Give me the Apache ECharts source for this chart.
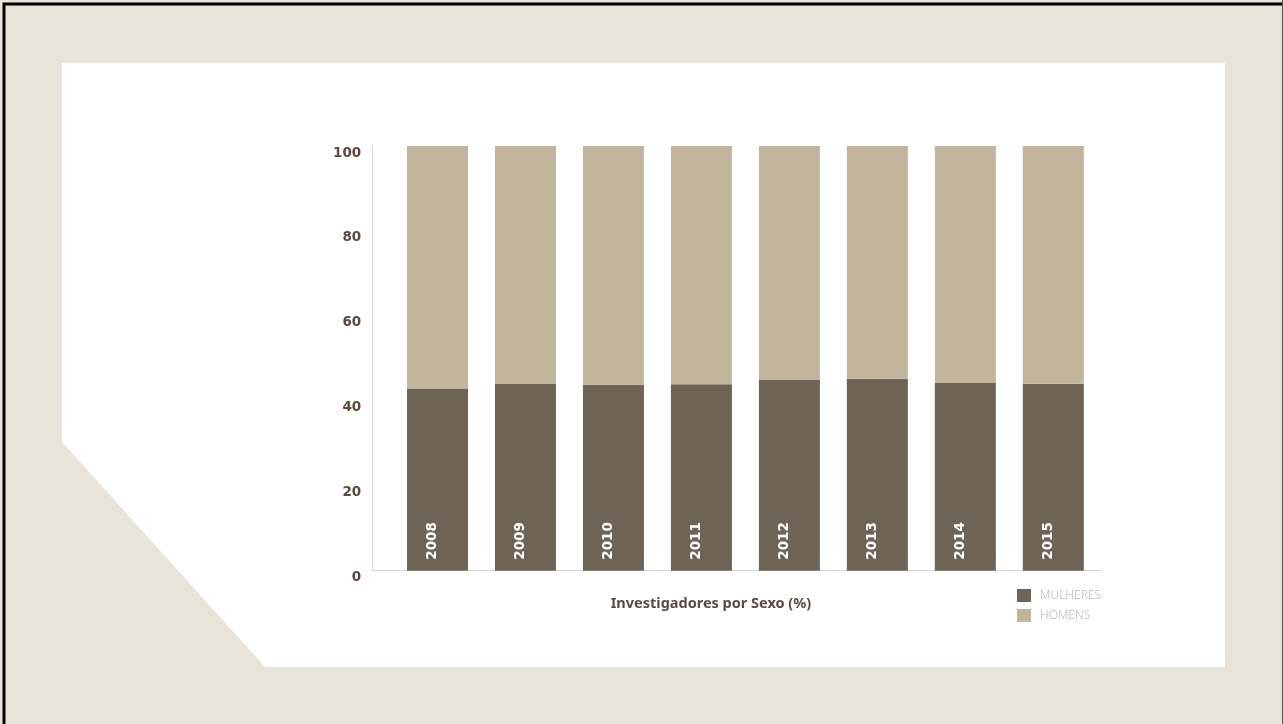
<!DOCTYPE html>
<html>
<head>
<meta charset="utf-8">
<script src="https://cdn.jsdelivr.net/npm/echarts@6/dist/echarts.min.js"></script>
<style>
  html, body { margin: 0; padding: 0; background: #e8e4da; }
  #chart { width: 1283px; height: 724px; }
</style>
</head>
<body>
<div id="chart"></div>
<script>
const years = ['2008', '2009', '2010', '2011', '2012', '2013', '2014', '2015'];
const mulheres = [42.9, 44.1, 43.8, 43.9, 44.9, 45.2, 44.2, 44.0];
const homens = [57.1, 55.9, 56.2, 56.1, 55.1, 54.8, 55.8, 56.0];
const yTicks = [0, 20, 40, 60, 80, 100];
const chartTitle = 'Investigadores por Sexo (%)';

const labelColor = '#5b4a43';
const fontFam = '"Noto Sans", "DejaVu Sans", sans-serif';
const numFam = '"DejaVu Sans", sans-serif';

const chart = echarts.init(document.getElementById('chart'), null, { renderer: 'canvas' });

chart.setOption({
  backgroundColor: '#e8e4da',
  animation: false,
  graphic: [
    {
      type: 'polygon', z: -10, silent: true,
      shape: { points: [[62, 63], [1225, 63], [1225, 667], [265, 667], [62, 442]] },
      style: { fill: '#ffffff' }
    },
    {
      type: 'polyline', z: 100, silent: true,
      shape: { points: [[4, 724], [4, 4], [1283, 4]] },
      style: { stroke: '#000000', lineWidth: 3, fill: null }
    },
    {
      type: 'line', z: 100, silent: true,
      shape: { x1: 1282.5, y1: 0, x2: 1282.5, y2: 724 },
      style: { stroke: '#555555', lineWidth: 1 }
    }
  ],
  title: {
    text: chartTitle,
    left: 711,
    top: 596,
    padding: 0,
    textAlign: 'center',
    textStyle: { color: labelColor, fontSize: 14.5, fontWeight: 'bold', fontFamily: fontFam }
  },
  legend: {
    orient: 'vertical',
    left: 1017,
    top: 589,
    padding: 0,
    itemWidth: 14,
    itemHeight: 13,
    itemGap: 7,
    icon: 'rect',
    data: ['MULHERES', 'HOMENS'],
    textStyle: { color: '#b8b8b8', fontSize: 12, fontWeight: 300, fontFamily: fontFam, padding: [0, 0, 0, 4] }
  },
  grid: [
    { left: 393.5, right: 1283 - 1097.3, top: 146, bottom: 724 - 570.7, containLabel: false },
    { left: 372, right: 1283 - 1100, top: 146, bottom: 724 - 570.7, containLabel: false }
  ],
  xAxis: [
    {
      type: 'category', gridIndex: 0, data: years,
      axisLine: { show: false }, axisTick: { show: false }, axisLabel: { show: false }
    },
    {
      type: 'value', gridIndex: 1, min: 0, max: 1,
      axisLine: { show: true, lineStyle: { color: '#d4d4d4', width: 1 } },
      axisTick: { show: false }, axisLabel: { show: false }, splitLine: { show: false }
    }
  ],
  yAxis: [
    {
      type: 'value', gridIndex: 0, min: 0, max: 100, interval: 20,
      offset: 21.3,
      axisLine: { show: true, lineStyle: { color: '#d4d4d4', width: 1 } },
      axisTick: { show: false },
      splitLine: { show: false },
      axisLabel: {
        margin: 11,
        color: labelColor,
        fontSize: 13.5,
        fontWeight: 'bold',
        fontFamily: numFam,
        verticalAlign: 'top',
        formatter: function (v) { return yTicks.indexOf(v) >= 0 ? String(v) : ''; }
      }
    },
    {
      type: 'value', gridIndex: 1, min: 0, max: 1,
      axisLine: { show: false }, axisTick: { show: false }, axisLabel: { show: false }, splitLine: { show: false }
    }
  ],
  series: [
    {
      name: 'MULHERES', type: 'bar', stack: 'total', xAxisIndex: 0, yAxisIndex: 0,
      barWidth: 61,
      data: mulheres,
      itemStyle: { color: '#6e6455' },
      label: {
        show: true,
        position: 'insideBottom',
        rotate: 90,
        align: 'left',
        verticalAlign: 'middle',
        distance: 11,
        offset: [0, -5],
        formatter: '{b}',
        color: '#ffffff',
        fontSize: 13.5,
        fontWeight: 'bold',
        fontFamily: numFam
      }
    },
    {
      name: 'HOMENS', type: 'bar', stack: 'total', xAxisIndex: 0, yAxisIndex: 0,
      barWidth: 61,
      data: homens,
      itemStyle: { color: '#c3b59b' }
    }
  ]
});
</script>
</body>
</html>
